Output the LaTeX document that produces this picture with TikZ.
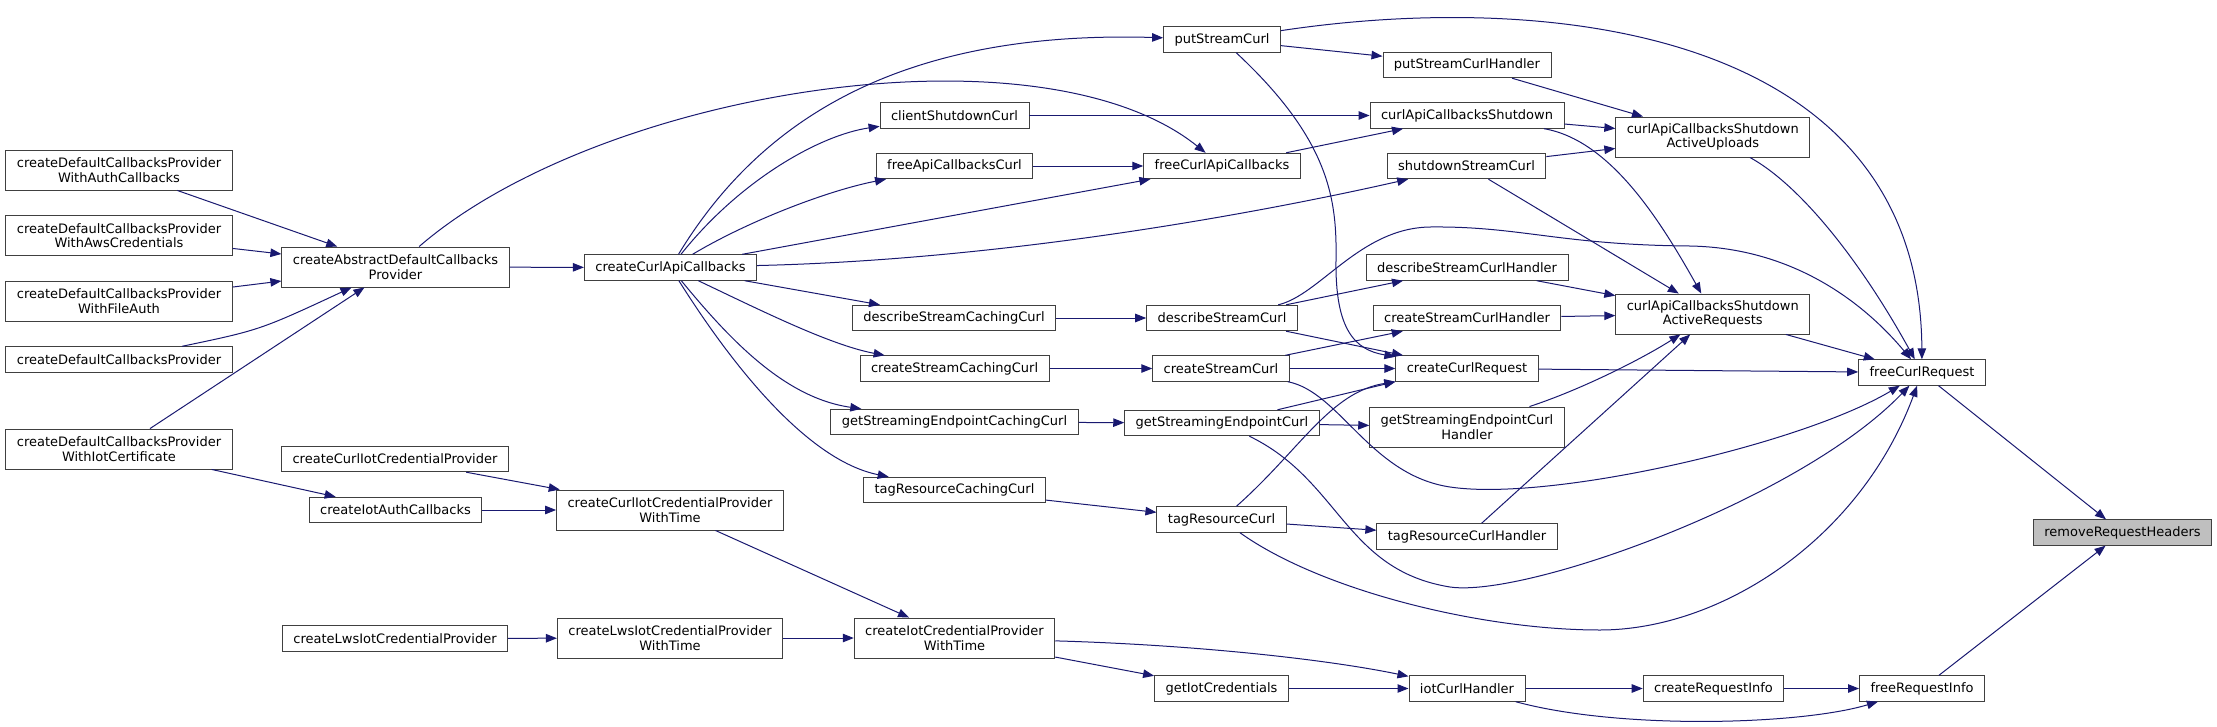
\documentclass[tikz,border=0pt]{standalone}
\usepackage{fontspec}
\setmainfont{DejaVu Sans}
\usetikzlibrary{arrows.meta}
\definecolor{edgeblue}{HTML}{191970}
\definecolor{nodegray}{HTML}{BFBFBF}

\begin{document}
\begin{tikzpicture}[x=1pt, y=-1pt,
    box/.style={draw=black!75, line width=0.9pt, fill=white, minimum height=25.5pt,
        inner xsep=11pt, inner ysep=1pt, font=\fontsize{13}{14.5}\selectfont},
    twoline/.style={box, minimum height=40pt, align=center},
    arr/.style={-{Triangle[length=11pt,width=8.5pt]}, draw=edgeblue, line width=1pt}
]
    \useasboundingbox (0,0) rectangle (2217,726);

    % callers on the far left
    \node[twoline] (dcpAuth) at (119,170) {createDefaultCallbacksProvider\\WithAuthCallbacks};
    \node[twoline] (dcpAws) at (119,235.5) {createDefaultCallbacksProvider\\WithAwsCredentials};
    \node[twoline] (dcpFile) at (119,301) {createDefaultCallbacksProvider\\WithFileAuth};
    \node[box] (dcpPlain) at (119,359.5) {createDefaultCallbacksProvider};
    \node[twoline] (dcpIot) at (119,449) {createDefaultCallbacksProvider\\WithIotCertificate};
    \node[twoline] (abstractProv) at (395.5,267) {createAbstractDefaultCallbacks\\Provider};
    \node[box] (curlIotProv) at (395,459) {createCurlIotCredentialProvider};
    \node[box] (iotAuthCb) at (395.5,510) {createIotAuthCallbacks};
    \node[box] (lwsIotProv) at (395,638.5) {createLwsIotCredentialProvider};
    \node[box] (curlApiCb) at (670.5,267.5) {createCurlApiCallbacks};
    \node[twoline] (curlIotProvTime) at (670,510) {createCurlIotCredentialProvider\\WithTime};
    \node[twoline] (lwsIotProvTime) at (670,638) {createLwsIotCredentialProvider\\WithTime};

    % caching layer
    \node[box] (clientShutdown) at (954.5,115.5) {clientShutdownCurl};
    \node[box] (freeApiCb) at (954.5,166) {freeApiCallbacksCurl};
    \node[box] (descCaching) at (954,318) {describeStreamCachingCurl};
    \node[box] (createCaching) at (954.6,368.5) {createStreamCachingCurl};
    \node[box] (endpointCaching) at (954.5,422) {getStreamingEndpointCachingCurl};
    \node[box] (tagCaching) at (954.5,490) {tagResourceCachingCurl};
    \node[twoline] (iotProvTime) at (954.5,638) {createIotCredentialProvider\\WithTime};

    % curl layer
    \node[box] (putStream) at (1222,39.5) {putStreamCurl};
    \node[box] (freeCurlApiCb) at (1222,166) {freeCurlApiCallbacks};
    \node[box] (descStream) at (1222,318) {describeStreamCurl};
    \node[box] (createStream) at (1221,368.5) {createStreamCurl};
    \node[box] (endpointStream) at (1222,423) {getStreamingEndpointCurl};
    \node[box] (tagStream) at (1221.5,519.5) {tagResourceCurl};
    \node[box] (getIotCred) at (1221.5,688.5) {getIotCredentials};

    % handlers
    \node[box] (putHandler) at (1467,65) {putStreamCurlHandler};
    \node[box] (cbShutdown) at (1467,115.5) {curlApiCallbacksShutdown};
    \node[box] (shutdownStream) at (1466.5,166) {shutdownStreamCurl};
    \node[box] (descHandler) at (1467,267.5) {describeStreamCurlHandler};
    \node[box] (createHandler) at (1467,318) {createStreamCurlHandler};
    \node[box] (curlRequest) at (1467,368.5) {createCurlRequest};
    \node[twoline] (endpointHandler) at (1467,427) {getStreamingEndpointCurl\\Handler};
    \node[box] (tagHandler) at (1467,536.5) {tagResourceCurlHandler};
    \node[box] (iotHandler) at (1467,688.5) {iotCurlHandler};

    % right side
    \node[twoline] (activeUploads) at (1712.75,137) {curlApiCallbacksShutdown\\ActiveUploads};
    \node[twoline] (activeRequests) at (1712.75,314) {curlApiCallbacksShutdown\\ActiveRequests};
    \node[box] (createReqInfo) at (1713.5,688.5) {createRequestInfo};
    \node[box] (freeCurlReq) at (1922,372.5) {freeCurlRequest};
    \node[box] (freeReqInfo) at (1922,688.5) {freeRequestInfo};
    \node[box, fill=nodegray] (removeHeaders) at (2122.5,532.5) {removeRequestHeaders};

    % left part
    \draw[arr] (dcpAuth) -- (abstractProv);
    \draw[arr] (dcpAws) -- (abstractProv);
    \draw[arr] (dcpFile) -- (abstractProv);
    \draw[arr] (dcpPlain) .. controls (260,330) .. (abstractProv);
    \draw[arr] (dcpIot) -- (abstractProv);
    \draw[arr] (dcpIot) -- (iotAuthCb);
    \draw[arr] (abstractProv) -- (curlApiCb);
    \draw[arr] (abstractProv) .. controls (600,90) and (1040,20) .. (freeCurlApiCb);
    \draw[arr] (curlApiCb) .. controls (760,120) and (900,30) .. (putStream);
    \draw[arr] (curlApiCb) .. controls (740,180) and (820,135) .. (clientShutdown);
    \draw[arr] (curlApiCb) .. controls (750,220) and (830,190) .. (freeApiCb);
    \draw[arr] (curlApiCb) -- (freeCurlApiCb);
    \draw[arr] (curlApiCb) .. controls (1000,260) and (1250,215) .. (shutdownStream);
    \draw[arr] (curlApiCb) -- (descCaching);
    \draw[arr] (curlApiCb) .. controls (760,310) and (830,345) .. (createCaching);
    \draw[arr] (curlApiCb) .. controls (730,340) and (785,398) .. (endpointCaching);
    \draw[arr] (curlApiCb) .. controls (710,330) and (795,458) .. (tagCaching);

    % iot credentials
    \draw[arr] (curlIotProv) -- (curlIotProvTime);
    \draw[arr] (iotAuthCb) -- (curlIotProvTime);
    \draw[arr] (lwsIotProv) -- (lwsIotProvTime);
    \draw[arr] (curlIotProvTime) -- (iotProvTime);
    \draw[arr] (lwsIotProvTime) -- (iotProvTime);
    \draw[arr] (iotProvTime) -- (getIotCred);
    \draw[arr] (iotProvTime) .. controls (1200,645) and (1330,660) .. (iotHandler);
    \draw[arr] (getIotCred) -- (iotHandler);
    \draw[arr] (iotHandler) -- (createReqInfo);
    \draw[arr] (createReqInfo) -- (freeReqInfo);
    \draw[arr] (iotHandler) .. controls (1620,730) and (1800,725) .. (freeReqInfo);

    % curl layer
    \draw[arr] (clientShutdown) -- (cbShutdown);
    \draw[arr] (freeApiCb) -- (freeCurlApiCb);
    \draw[arr] (freeCurlApiCb) -- (cbShutdown);
    \draw[arr] (putStream) -- (putHandler);
    \draw[arr] (putStream) .. controls (1550,-10) and (1920,30) .. (freeCurlReq);
    \draw[arr] (putStream) .. controls (1330,140) and (1337,200) .. (1336,260)
        .. controls (1335,330) and (1355,350) .. (curlRequest);
    \draw[arr] (descCaching) -- (descStream);
    \draw[arr] (descStream) -- (descHandler);
    \draw[arr] (descStream) -- (curlRequest);
    \draw[arr] (descStream) .. controls (1320,295) and (1360,228) .. (1430,227)
        .. controls (1520,226) and (1560,245) .. (1690,246)
        .. controls (1800,248) and (1870,310) .. (freeCurlReq);
    \draw[arr] (createCaching) -- (createStream);
    \draw[arr] (createStream) -- (createHandler);
    \draw[arr] (createStream) -- (curlRequest);
    \draw[arr] (createStream) .. controls (1340,392) and (1370,475) .. (1450,487)
        .. controls (1550,502) and (1800,445) .. (freeCurlReq);
    \draw[arr] (endpointCaching) -- (endpointStream);
    \draw[arr] (endpointStream) -- (curlRequest.south west);
    \draw[arr] (endpointStream) -- (endpointHandler);
    \draw[arr] (endpointStream) .. controls (1340,480) and (1345,570) .. (1450,587)
        .. controls (1525,598) and (1800,500) .. (freeCurlReq);
    \draw[arr] (tagCaching) -- (tagStream);
    \draw[arr] (tagStream) .. controls (1300,450) and (1330,392) .. (curlRequest.south west);
    \draw[arr] (tagStream) -- (tagHandler);
    \draw[arr] (tagStream) .. controls (1320,590) and (1480,630) .. (1600,630)
        .. controls (1720,630) and (1860,540) .. (freeCurlReq);

    % shutdown and request cleanup
    \draw[arr] (putHandler) -- (activeUploads);
    \draw[arr] (cbShutdown) -- (activeUploads);
    \draw[arr] (shutdownStream) -- (activeUploads);
    \draw[arr] (cbShutdown) .. controls (1610,140) and (1660,220) .. (activeRequests);
    \draw[arr] (shutdownStream) -- (activeRequests);
    \draw[arr] (descHandler) -- (activeRequests);
    \draw[arr] (createHandler) -- (activeRequests);
    \draw[arr] (endpointHandler) .. controls (1580,390) and (1640,360) .. (activeRequests);
    \draw[arr] (tagHandler) -- (activeRequests);
    \draw[arr] (activeUploads) .. controls (1800,185) and (1860,260) .. (freeCurlReq);
    \draw[arr] (activeRequests) -- (freeCurlReq);
    \draw[arr] (curlRequest) -- (freeCurlReq);
    \draw[arr] (freeCurlReq) -- (removeHeaders);
    \draw[arr] (freeReqInfo) -- (removeHeaders);
\end{tikzpicture}
\end{document}
